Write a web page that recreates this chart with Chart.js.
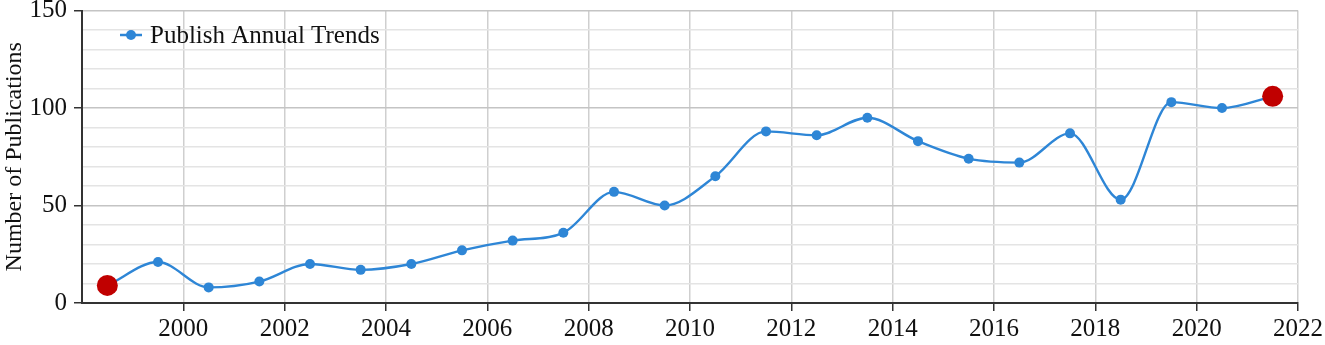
<!DOCTYPE html>
<html>
<head>
<meta charset="utf-8">
<script src="https://cdn.jsdelivr.net/npm/chart.js@4.4.0/dist/chart.umd.min.js"></script>
<style>
html,body{margin:0;padding:0;background:#fff;}
#wrap{width:1325px;height:345px;position:relative;}
</style>
</head>
<body>
<div id="wrap"><canvas id="c" width="1325" height="345"></canvas></div>
<script>
const years = [1998.5,1999.5,2000.5,2001.5,2002.5,2003.5,2004.5,2005.5,2006.5,2007.5,2008.5,2009.5,2010.5,2011.5,2012.5,2013.5,2014.5,2015.5,2016.5,2017.5,2018.5,2019.5,2020.5,2021.5];
const publications = [9,21,8,11,20,17,20,27,32,36,57,50,65,88,86,95,83,74,72,87,53,103,100,106];
const seriesName = 'Publish Annual Trends';
const yAxisTitle = 'Number of Publications';
const xMin = 1998, xMax = 2022, xStep = 2;
const yMin = 0, yMax = 150, yStep = 10, yLabelStep = 50;

const BLUE = '#2e86d6';
const RED = '#c00000';
const FONT = "'Liberation Serif','Times New Roman',serif";

const pts = years.map((x,i)=>({x:x,y:publications[i]}));
const last = pts.length-1;

// legend drawn inside plot area (line + dot + text)
const legendPlugin = {
  id: 'innerLegend',
  afterDraw(chart) {
    const ctx = chart.ctx;
    const ds = chart.data.datasets[0];
    const cy = 35;
    ctx.save();
    ctx.strokeStyle = BLUE; ctx.lineWidth = 2.5;
    ctx.beginPath(); ctx.moveTo(120, cy); ctx.lineTo(142, cy); ctx.stroke();
    ctx.fillStyle = BLUE; ctx.beginPath(); ctx.arc(131, cy, 5, 0, Math.PI*2); ctx.fill();
    ctx.fillStyle = '#111';
    ctx.font = "25px " + FONT;
    ctx.textBaseline = 'middle';
    ctx.textAlign = 'left';
    ctx.fillText(ds.label, 150, cy + 1);
    ctx.restore();
  }
};

new Chart(document.getElementById('c'), {
  type: 'line',
  data: {
    datasets: [{
      label: seriesName,
      data: pts,
      borderColor: BLUE,
      backgroundColor: BLUE,
      borderWidth: 2.4,
      cubicInterpolationMode: 'monotone',
      pointRadius: ctx => (ctx.dataIndex===0||ctx.dataIndex===last)?10.5:5,
      pointBackgroundColor: ctx => (ctx.dataIndex===0||ctx.dataIndex===last)?RED:BLUE,
      pointBorderWidth: 0,
      pointHoverRadius: 6,
      clip: false
    }]
  },
  options: {
    responsive: false,
    animation: false,
    layout: {padding: {top: 8, right: 27, left: 0, bottom: 0}},
    plugins: {
      tooltip: {enabled: false},
      legend: {display: false}
    },
    scales: {
      x: {
        type: 'linear',
        min: xMin, max: xMax,
        afterFit: s => { s.height = 42; s.paddingLeft = 0; s.paddingRight = 0; },
        ticks: {
          stepSize: xStep,
          color: '#111',
          font: {family: FONT, size: 25},
          padding: 3,
          maxRotation: 0,
          callback: v => v===xMin ? '' : String(v)
        },
        grid: {
          color: '#cfcfcf',
          lineWidth: 1.5,
          tickLength: 8,
          tickColor: ctx => ctx.tick && ctx.tick.value===xMin ? 'rgba(0,0,0,0)' : '#333'
        },
        border: {color: '#333', width: 2}
      },
      y: {
        min: yMin, max: yMax,
        afterFit: s => { s.width = 82; s.paddingTop = 0; s.paddingBottom = 0; },
        title: {display: true, text: yAxisTitle, color: '#111', font: {family: FONT, size: 24}, padding: {top: 0, bottom: 2}},
        ticks: {
          stepSize: yStep,
          color: '#111',
          font: {family: FONT, size: 25},
          padding: 7,
          autoSkip: false,
          callback: v => v % yLabelStep === 0 ? String(v) : ''
        },
        grid: {
          color: ctx => ctx.tick && ctx.tick.value % yLabelStep === 0 ? '#c4c4c4' : '#e4e4e4',
          lineWidth: 1.5,
          tickLength: 8,
          tickColor: ctx => ctx.tick && ctx.tick.value % yLabelStep === 0 ? '#333' : 'rgba(0,0,0,0)'
        },
        border: {color: '#333', width: 2}
      }
    }
  },
  plugins: [legendPlugin]
});
</script>
</body>
</html>
